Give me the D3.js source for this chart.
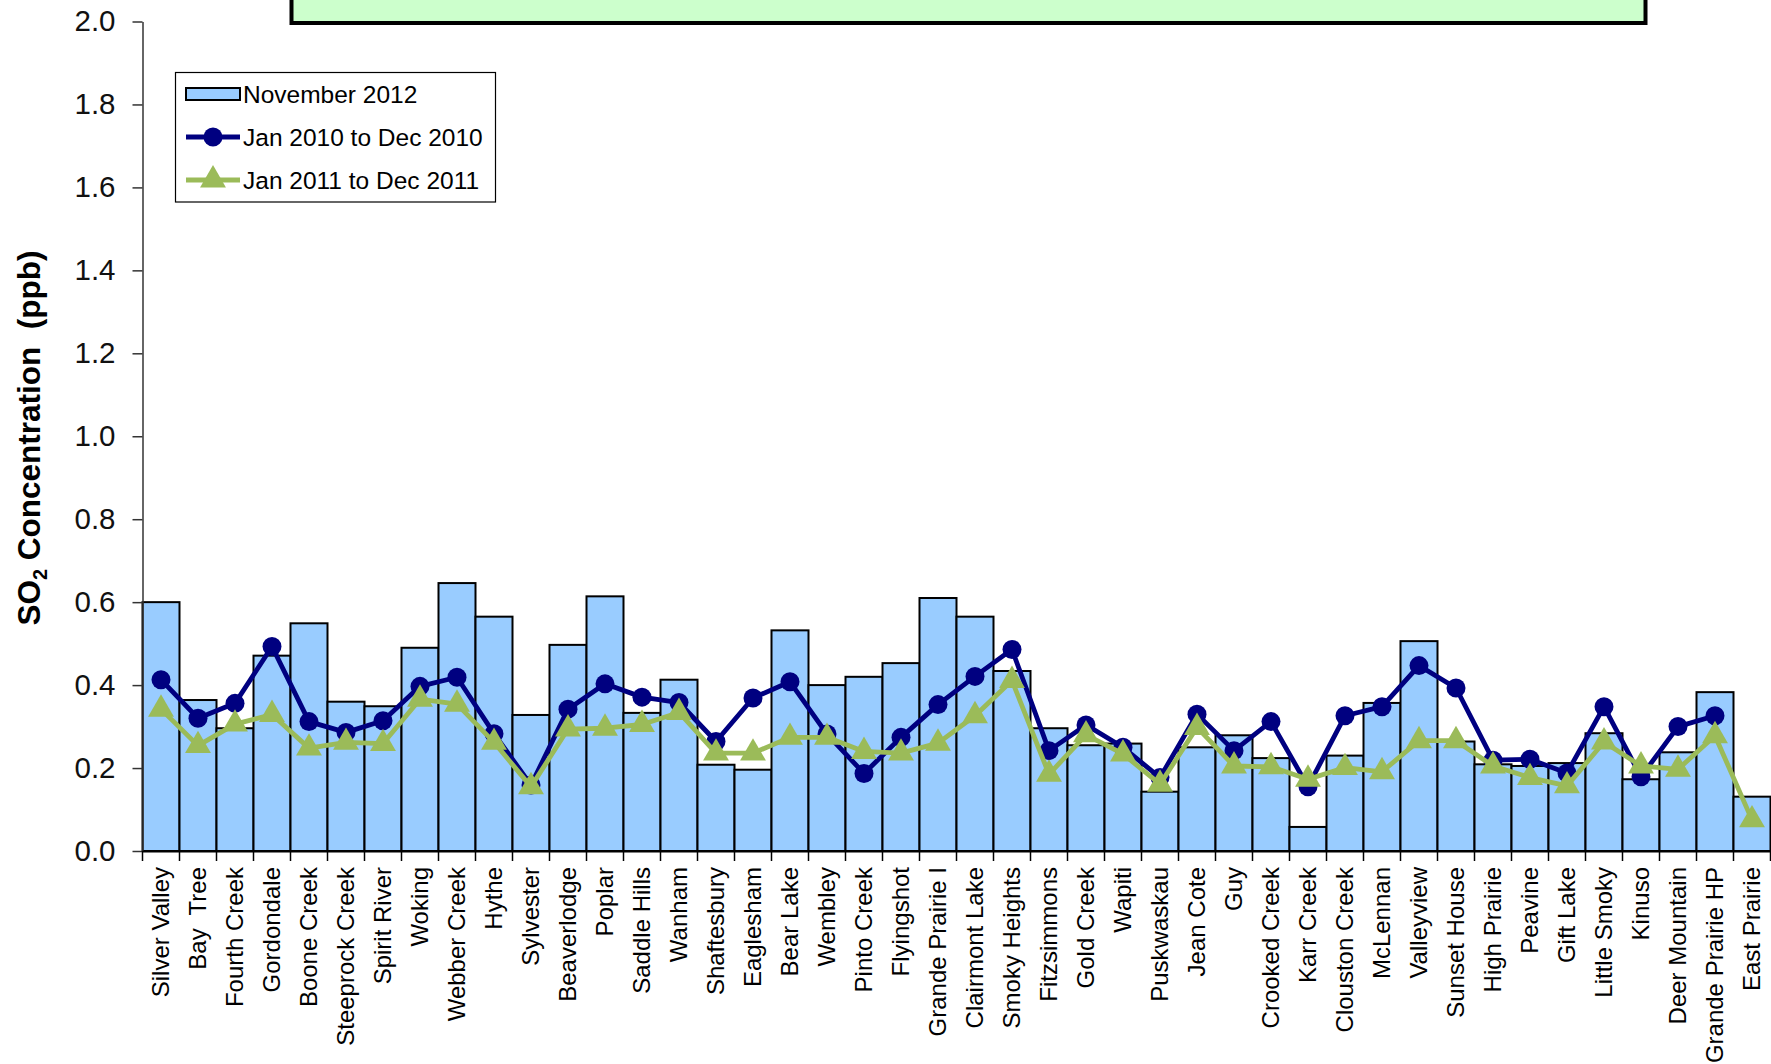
<!DOCTYPE html>
<html>
<head>
<meta charset="utf-8">
<script src="https://cdn.jsdelivr.net/npm/d3@7"></script>
<style>
  html, body { margin: 0; padding: 0; background: #fff; }
  svg { display: block; font-family: "Liberation Sans", Arial, sans-serif; }
  text { white-space: pre; }
</style>
</head>
<body>
<svg id="chart" width="1771" height="1064"></svg>
<script>
// Monitoring stations
const stations = [
  "Silver Valley", "Bay  Tree", "Fourth Creek", "Gordondale", "Boone Creek",
  "Steeprock Creek", "Spirit River", "Woking", "Webber Creek", "Hythe",
  "Sylvester", "Beaverlodge", "Poplar", "Saddle Hills", "Wanham",
  "Shaftesbury", "Eaglesham", "Bear Lake", "Wembley", "Pinto Creek",
  "Flyingshot", "Grande Prairie I", "Clairmont Lake", "Smoky Heights", "Fitzsimmons",
  "Gold Creek", "Wapiti", "Puskwaskau", "Jean Cote", "Guy",
  "Crooked Creek", "Karr Creek", "Clouston Creek", "McLennan", "Valleyview",
  "Sunset House", "High Prairie", "Peavine", "Gift Lake", "Little Smoky",
  "Kinuso", "Deer Mountain", "Grande Prairie HP", "East Prairie"
];

// SO2 monthly mean, November 2012 (ppb)
const nov2012 = [
  0.600, 0.364, 0.296, 0.471, 0.549, 0.360, 0.349, 0.490, 0.646, 0.565,
  0.328, 0.497, 0.614, 0.333, 0.413, 0.208, 0.196, 0.532, 0.400, 0.420,
  0.453, 0.610, 0.565, 0.434, 0.296, 0.255, 0.259, 0.143, 0.250, 0.279,
  0.224, 0.058, 0.230, 0.357, 0.506, 0.264, 0.209, 0.205, 0.212, 0.284,
  0.173, 0.238, 0.383, 0.131
];

// Annual mean, Jan 2010 to Dec 2010 (no value for East Prairie)
const y2010 = [
  0.413, 0.320, 0.356, 0.493, 0.312, 0.286, 0.314, 0.397, 0.419, 0.283,
  0.159, 0.342, 0.403, 0.371, 0.358, 0.264, 0.369, 0.408, 0.282, 0.187,
  0.274, 0.353, 0.421, 0.486, 0.242, 0.304, 0.250, 0.177, 0.330, 0.242,
  0.312, 0.155, 0.326, 0.348, 0.447, 0.393, 0.219, 0.221, 0.188, 0.348,
  0.179, 0.300, 0.326, null
];

// Annual mean, Jan 2011 to Dec 2011
const y2011 = [
  0.342, 0.254, 0.306, 0.329, 0.248, 0.262, 0.259, 0.366, 0.354, 0.262,
  0.155, 0.294, 0.296, 0.305, 0.334, 0.236, 0.236, 0.274, 0.274, 0.240,
  0.236, 0.260, 0.326, 0.411, 0.185, 0.280, 0.234, 0.161, 0.298, 0.205,
  0.203, 0.173, 0.201, 0.191, 0.266, 0.266, 0.205, 0.177, 0.157, 0.263,
  0.205, 0.197, 0.278, 0.075
];

const yTicks = [0, 0.2, 0.4, 0.6, 0.8, 1.0, 1.2, 1.4, 1.6, 1.8, 2.0];
const seriesNames = ["November 2012", "Jan 2010 to Dec 2010", "Jan 2011 to Dec 2011"];

const C_BAR = "#99CCFF", C_2010 = "#000080", C_2011 = "#9BBB59";

const svg = d3.select("#chart");
const plotLeft = 142.5, plotRight = 1770.5, plotTop = 21.5, plotBottom = 851;

const x = d3.scaleBand().domain(stations).range([plotLeft, plotRight]).padding(0);
const y = d3.scaleLinear().domain([0, 2]).range([plotBottom, plotTop]);

// Title banner (extends past the top edge)
svg.append("rect")
  .attr("x", 291.5).attr("y", -20)
  .attr("width", 1354).attr("height", 43)
  .attr("fill", "#CCFFCC").attr("stroke", "#000").attr("stroke-width", 4);

// Bars
svg.append("g").selectAll("rect")
  .data(stations)
  .join("rect")
  .attr("x", d => x(d))
  .attr("y", (d, i) => y(nov2012[i]))
  .attr("width", x.bandwidth())
  .attr("height", (d, i) => y(0) - y(nov2012[i]))
  .attr("fill", C_BAR)
  .attr("stroke", "#000")
  .attr("stroke-width", 2);

// Y axis
const yAxis = d3.axisLeft(y)
  .tickValues(yTicks)
  .tickFormat(d3.format(".1f"))
  .tickSize(10)
  .tickSizeOuter(0)
  .tickPadding(17);
const gy = svg.append("g").attr("transform", `translate(${plotLeft},0)`).call(yAxis);
gy.select(".domain").attr("stroke", "#333").attr("stroke-width", 1.5);
gy.selectAll(".tick line").attr("stroke", "#333").attr("stroke-width", 1.5);
gy.selectAll(".tick text")
  .attr("font-size", 29.5).attr("fill", "#111")
  .attr("font-family", "Liberation Sans, Arial, sans-serif");

// X axis: labels centred on bands, tick marks at band boundaries
const xAxis = d3.axisBottom(x).tickSize(0).tickSizeOuter(0);
const gx = svg.append("g").attr("transform", `translate(0,${plotBottom})`).call(xAxis);
gx.select(".domain").attr("stroke", "#000").attr("stroke-width", 2);
gx.selectAll(".tick text")
  .attr("font-size", 24).attr("fill", "#000")
  .attr("font-family", "Liberation Sans, Arial, sans-serif")
  .attr("text-anchor", "end")
  .attr("x", 0).attr("y", 0).attr("dy", "0.35em")
  .attr("transform", "translate(0,16) rotate(-90)");

const bounds = stations.map(d => x(d)).concat([x.range()[1]]);
gx.append("g").selectAll("line")
  .data(bounds)
  .join("line")
  .attr("x1", d => d).attr("x2", d => d)
  .attr("y1", 0).attr("y2", 10)
  .attr("stroke", "#000").attr("stroke-width", 1.5);

// Lines with markers
const cx = (i) => x(stations[i]) + x.bandwidth() / 2;
const line = d3.line()
  .defined(d => d.v != null)
  .x(d => cx(d.i))
  .y(d => y(d.v));

const pts2010 = y2010.map((v, i) => ({ i, v }));
const pts2011 = y2011.map((v, i) => ({ i, v }));

svg.append("path").datum(pts2010)
  .attr("d", line).attr("fill", "none")
  .attr("stroke", C_2010).attr("stroke-width", 4.8).attr("stroke-linejoin", "round");
svg.append("g").selectAll("circle")
  .data(pts2010.filter(d => d.v != null))
  .join("circle")
  .attr("cx", d => cx(d.i)).attr("cy", d => y(d.v))
  .attr("r", 9.5).attr("fill", C_2010);

const tri = d3.symbol().type(d3.symbolTriangle).size(290);
svg.append("path").datum(pts2011)
  .attr("d", line).attr("fill", "none")
  .attr("stroke", C_2011).attr("stroke-width", 4.8).attr("stroke-linejoin", "round");
svg.append("g").selectAll("path")
  .data(pts2011)
  .join("path")
  .attr("d", tri)
  .attr("transform", d => `translate(${cx(d.i)},${y(d.v)})`)
  .attr("fill", C_2011);

// Y axis title with subscript
const yt = svg.append("text")
  .attr("transform", `translate(40,438) rotate(-90)`)
  .attr("text-anchor", "middle")
  .attr("font-size", 31.5).attr("font-weight", "bold").attr("fill", "#000");
yt.append("tspan").text("SO");
yt.append("tspan").text("2").attr("font-size", 20).attr("dy", 7);
yt.append("tspan").text(" Concentration  (ppb)").attr("dy", -7);

// Legend
const lg = svg.append("g");
lg.append("rect")
  .attr("x", 175.5).attr("y", 72.5).attr("width", 320).attr("height", 129.5)
  .attr("fill", "#fff").attr("stroke", "#000").attr("stroke-width", 1.2);
const rows = [94, 137, 180];
const sx0 = 186, sx1 = 240;
lg.append("rect")
  .attr("x", sx0).attr("y", rows[0] - 6).attr("width", sx1 - sx0).attr("height", 12)
  .attr("fill", C_BAR).attr("stroke", "#000").attr("stroke-width", 2);
lg.append("line")
  .attr("x1", sx0).attr("x2", sx1).attr("y1", rows[1]).attr("y2", rows[1])
  .attr("stroke", C_2010).attr("stroke-width", 4.8);
lg.append("circle").attr("cx", (sx0 + sx1) / 2).attr("cy", rows[1]).attr("r", 9.5).attr("fill", C_2010);
lg.append("line")
  .attr("x1", sx0).attr("x2", sx1).attr("y1", rows[2]).attr("y2", rows[2])
  .attr("stroke", C_2011).attr("stroke-width", 4.8);
lg.append("path").attr("d", tri)
  .attr("transform", `translate(${(sx0 + sx1) / 2},${rows[2]})`).attr("fill", C_2011);
lg.selectAll("text.lab")
  .data(seriesNames)
  .join("text")
  .attr("class", "lab")
  .attr("x", 243).attr("y", (d, i) => rows[i])
  .attr("dy", "0.35em")
  .attr("font-size", 24.5).attr("fill", "#000")
  .text(d => d);
</script>
</body>
</html>
